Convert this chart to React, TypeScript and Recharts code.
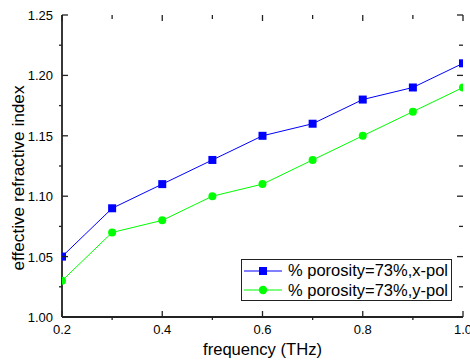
import React from "react";
import { LineChart, Line, XAxis, YAxis, Legend } from "recharts";

const frequency = [0.2, 0.3, 0.4, 0.5, 0.6, 0.7, 0.8, 0.9, 1.0];
const xPol = [1.05, 1.09, 1.11, 1.13, 1.15, 1.16, 1.18, 1.19, 1.21];
const yPol = [1.03, 1.07, 1.08, 1.1, 1.11, 1.13, 1.15, 1.17, 1.19];

const xTicks = [0.2, 0.3, 0.4, 0.5, 0.6, 0.7, 0.8, 0.9, 1.0];
const yTicks = [1.0, 1.025, 1.05, 1.075, 1.1, 1.125, 1.15, 1.175, 1.2, 1.225, 1.25];

const data = frequency.map((f, i) => ({ f, x: xPol[i], y: yPol[i] }));

const FONT = "'Liberation Sans', Arial, sans-serif";
const AXIS = "#222";
const W = 470;
const H = 360;
const M = { top: 15, right: 7, bottom: 0, left: 0 };
const PLOT_TOP = M.top;
const PLOT_RIGHT = W - M.right;

const isMajorX = (v: number) => Math.round(v * 10) % 2 === 0;
const isMajorY = (v: number) => Math.round(v * 1000) % 50 === 0;

// bottom/left: major ticks in, minor out; mirrored ticks on top/right point in
const bottomTick = (props: any) => {
  const { x, y, payload } = props;
  const major = isMajorX(payload.value);
  return (
    <g>
      <path d={`M${x},${y}L${x},${major ? y - 6 : y + 3}`} stroke={AXIS} strokeWidth={1.3} fill="none" />
      <path d={`M${x},${PLOT_TOP}L${x},${PLOT_TOP + (major ? 6 : 4)}`} stroke={AXIS} strokeWidth={1.3} fill="none" />
      {major && (
        <text x={x} y={y + 17} textAnchor="middle" fontSize={13} fontFamily={FONT} fill="#000">
          {payload.value.toFixed(1)}
        </text>
      )}
    </g>
  );
};

const leftTick = (props: any) => {
  const { x, y, payload } = props;
  const major = isMajorY(payload.value);
  return (
    <g>
      <path d={`M${x},${y}L${major ? x + 6 : x - 3},${y}`} stroke={AXIS} strokeWidth={1.3} fill="none" />
      <path d={`M${PLOT_RIGHT},${y}L${PLOT_RIGHT - (major ? 6 : 4)},${y}`} stroke={AXIS} strokeWidth={1.3} fill="none" />
      {major && (
        <text x={x - 9} y={y + 5} textAnchor="end" fontSize={13} fontFamily={FONT} fill="#000">
          {payload.value.toFixed(2)}
        </text>
      )}
    </g>
  );
};

const YLabel = (props: any) => {
  const { viewBox } = props;
  const cy = viewBox.y + viewBox.height / 2 + 12;
  return (
    <text x={24} y={cy} transform={`rotate(-90, 24, ${cy})`} textAnchor="middle" fontSize={17.2} fontFamily={FONT} fill="#000">
      effective refractive index
    </text>
  );
};

const XLabel = (props: any) => {
  const { viewBox } = props;
  return (
    <text x={viewBox.x + viewBox.width / 2} y={355} textAnchor="middle" fontSize={16.6} fontFamily={FONT} fill="#000">
      frequency (THz)
    </text>
  );
};

const LegendBox = () => (
  <div
    style={{
      border: "1.5px solid #222",
      background: "#fff",
      width: 211,
      height: 42,
      fontFamily: FONT,
      fontSize: 16.5,
      color: "#000",
      boxSizing: "border-box",
      paddingTop: 1,
    }}
  >
    {[
      { label: "% porosity=73%,x-pol", color: "#0000ff", square: true },
      { label: "% porosity=73%,y-pol", color: "#00ff00", square: false },
    ].map((it) => (
      <div key={it.label} style={{ display: "flex", alignItems: "center", height: 19.5 }}>
        <svg width={40} height={18} style={{ marginLeft: 2, flex: "none" }}>
          <line x1={0} y1={9} x2={38} y2={9} stroke={it.color} strokeWidth={1.2} />
          {it.square ? (
            <rect x={15} y={5} width={8} height={8} fill={it.color} />
          ) : (
            <circle cx={19} cy={9} r={4.2} fill={it.color} />
          )}
        </svg>
        <span style={{ marginLeft: 4, whiteSpace: "nowrap", lineHeight: "19px" }}>{it.label}</span>
      </div>
    ))}
  </div>
);

const SquareDot = (props: any) => {
  const { cx, cy } = props;
  return <rect x={cx - 4} y={cy - 4} width={8} height={8} fill="#0000ff" />;
};

export default function App() {
  return (
    <div style={{ position: "absolute", left: 0, top: 0, width: W, height: H, background: "#fff" }}>
      <LineChart width={W} height={H} data={data} margin={M}>
        <XAxis dataKey="f" type="number" domain={[0.2, 1.0]} ticks={xTicks} tickLine={false} tickSize={0} tickMargin={0}
          tick={bottomTick} axisLine={{ stroke: AXIS, strokeWidth: 1.8 }} height={43} interval={0} allowDataOverflow label={<XLabel />} />
        <XAxis xAxisId="top" orientation="top" dataKey="f" type="number" domain={[0.2, 1.0]} tick={false} tickLine={false}
          axisLine={{ stroke: AXIS, strokeWidth: 1.8 }} height={0} />
        <YAxis type="number" domain={[1.0, 1.25]} ticks={yTicks} tickLine={false} tickSize={0} tickMargin={0} tick={leftTick}
          axisLine={{ stroke: AXIS, strokeWidth: 1.8 }} width={62} interval={0} allowDataOverflow label={<YLabel />} />
        <YAxis yAxisId="right" orientation="right" type="number" domain={[1.0, 1.25]} tick={false} tickLine={false}
          axisLine={{ stroke: AXIS, strokeWidth: 1.8 }} width={0} />
        <Legend
          layout="horizontal"
          verticalAlign="middle"
          align="center"
          content={<LegendBox />}
          wrapperStyle={{ position: "absolute", left: 241, top: 259, width: 211 }}
        />
        <Line dataKey="x" stroke="#0000ff" strokeWidth={1} dot={<SquareDot />} isAnimationActive={false} />
        <Line dataKey="y" stroke="#00ff00" strokeWidth={1} dot={{ r: 4, fill: "#00ff00", stroke: "none" }} isAnimationActive={false} />
      </LineChart>
    </div>
  );
}
